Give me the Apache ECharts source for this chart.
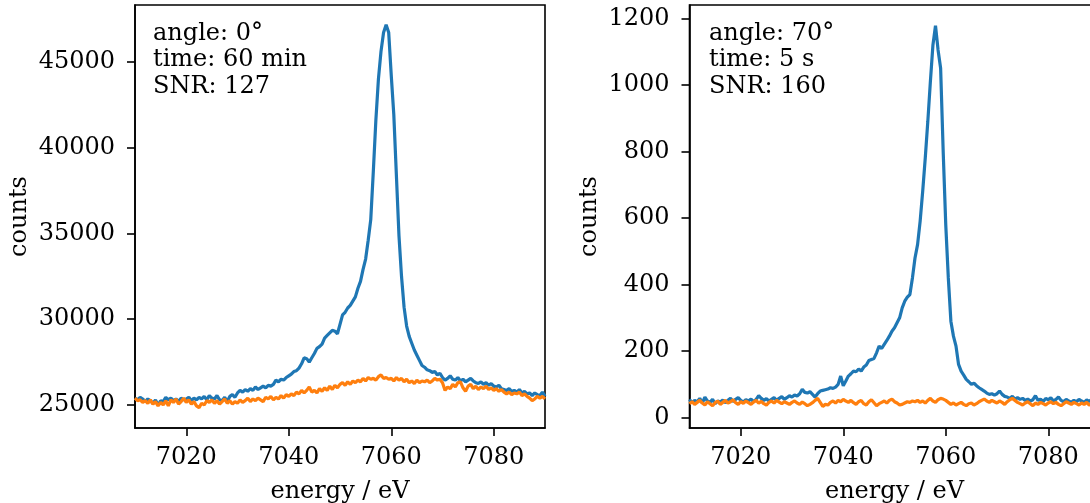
<!DOCTYPE html>
<html>
<head>
<meta charset="utf-8">
<script src="https://cdn.jsdelivr.net/npm/echarts@6/dist/echarts.min.js"></script>
<style>html,body{margin:0;padding:0;background:#fff;}#chart{width:1090px;height:503px;}</style>
</head>
<body>
<div id="chart"></div>
<script>
const energy = [
7010,7010.5,7011,7011.5,7012,7012.5,7013,7013.5,7014,7014.5,
7015,7015.5,7016,7016.5,7017,7017.5,7018,7018.5,7019,7019.5,
7020,7020.5,7021,7021.5,7022,7022.5,7023,7023.5,7024,7024.5,
7025,7025.5,7026,7026.5,7027,7027.5,7028,7028.5,7029,7029.5,
7030,7030.5,7031,7031.5,7032,7032.5,7033,7033.5,7034,7034.5,
7035,7035.5,7036,7036.5,7037,7037.5,7038,7038.5,7039,7039.5,
7040,7040.5,7041,7041.5,7042,7042.5,7043,7043.5,7044,7044.5,
7045,7045.5,7046,7046.5,7047,7047.5,7048,7048.5,7049,7049.5,
7050,7050.5,7051,7051.5,7052,7052.5,7053,7053.5,7054,7054.5,
7055,7055.5,7056,7056.5,7057,7057.5,7058,7058.5,7059,7059.5,
7060,7060.5,7061,7061.5,7062,7062.5,7063,7063.5,7064,7064.5,
7065,7065.5,7066,7066.5,7067,7067.5,7068,7068.5,7069,7069.5,
7070,7070.5,7071,7071.5,7072,7072.5,7073,7073.5,7074,7074.5,
7075,7075.5,7076,7076.5,7077,7077.5,7078,7078.5,7079,7079.5,
7080,7080.5,7081,7081.5,7082,7082.5,7083,7083.5,7084,7084.5,
7085,7085.5,7086,7086.5,7087,7087.5,7088,7088.5,7089,7089.5,
7090];

// angle 0°, 60 min — blue (sample) and orange (reference)
const counts0Blue = [
25400,25300,25450,25350,25200,25350,25250,25100,25300,25000,
25250,25200,25450,25300,25400,25250,25350,25200,25400,25300,
25350,25450,25250,25400,25300,25450,25350,25500,25300,25550,
25400,25350,25550,25300,25250,25450,25200,25500,25600,25450,
25700,25850,25750,25900,25800,25950,25850,26050,25900,26000,
26100,26000,26150,26100,26200,26450,26350,26500,26450,26600,
26700,26800,26950,27000,27150,27400,27750,27700,27500,27750,
28000,28300,28400,28550,28900,29050,29200,29350,29300,29150,
29700,30250,30400,30650,30800,31050,31300,31800,32200,32900,
33500,34600,35800,38600,41600,44000,45600,46700,47150,46700,
44200,41900,38400,34900,32500,30700,29600,29000,28600,28200,
27900,27600,27300,27200,27050,27000,26900,26950,26750,26850,
26600,26450,26550,26700,26500,26450,26600,26400,26500,26350,
26450,26550,26400,26300,26250,26350,26200,26300,26150,26250,
26100,26050,26150,25950,25900,25850,25950,25800,25850,25750,
25900,25700,25800,25650,25700,25550,25700,25600,25550,25750,
25500];
const counts0Orange = [
25400,25250,25300,25150,25250,25100,25300,25050,25200,24950,
25150,25000,25250,24950,25300,25150,25350,25050,25200,25400,
25150,25300,25050,25200,24950,24850,25100,25000,25250,25150,
25300,25100,25250,25050,25200,25350,25100,25250,25050,25200,
25100,25300,25150,25250,25400,25200,25350,25250,25400,25300,
25200,25450,25350,25500,25300,25450,25350,25550,25400,25600,
25500,25650,25550,25750,25650,25850,25700,25850,26050,25750,
25850,25700,25950,25800,26000,25850,26100,25900,26150,26000,
26200,26300,26150,26350,26200,26400,26300,26450,26350,26550,
26400,26600,26500,26550,26450,26650,26750,26550,26600,26500,
26550,26400,26600,26450,26550,26350,26500,26300,26400,26250,
26450,26300,26400,26350,26450,26300,26400,26550,26450,26500,
26300,25850,26050,25950,26200,26050,26300,26350,26000,25800,
26100,26200,25950,26100,25900,26050,25950,26100,25900,26000,
25850,25950,25800,25900,25750,25650,25750,25600,25700,25650,
25750,25550,25650,25500,25400,25250,25350,25500,25400,25500,
25350];

// angle 70°, 5 s
const counts70Blue = [
55,45,52,48,58,44,62,50,46,55,
42,50,47,53,45,52,58,49,55,60,
52,47,54,50,56,48,55,66,58,52,
57,50,55,60,52,58,63,55,60,66,
62,68,65,72,85,76,74,78,70,62,
72,80,82,84,86,90,88,92,100,125,
96,110,125,132,140,138,146,140,152,158,
172,175,178,195,215,208,220,232,245,260,
270,285,300,330,350,362,370,420,480,520,
590,680,780,890,1010,1120,1178,1105,1050,800,
580,420,290,245,215,160,140,128,115,108,
100,104,96,90,85,80,74,70,72,68,
72,80,70,64,62,58,64,56,60,55,
58,52,56,50,54,66,52,56,48,58,
54,60,50,55,62,52,48,55,50,46,
52,48,55,50,46,53,49,55,47,52,
50];
const counts70Orange = [
42,48,40,46,52,44,38,48,42,36,
45,50,40,46,52,44,48,54,45,40,
48,43,50,45,40,47,52,44,49,42,
38,46,50,44,52,47,42,48,44,40,
46,50,44,40,47,42,36,40,45,52,
58,46,34,40,38,46,50,44,52,48,
55,50,46,52,45,40,48,52,42,38,
48,54,45,36,42,46,50,44,52,56,
48,44,38,40,44,48,46,50,48,52,
46,50,44,52,58,50,46,54,58,56,
52,46,40,44,38,42,46,40,36,42,
44,38,42,48,52,56,50,46,52,48,
44,50,46,40,48,54,58,52,46,42,
38,44,48,42,36,44,40,46,42,38,
44,48,42,46,40,36,42,48,44,40,
46,42,38,44,40,46,38,42,36,40,
38];

const xTicks = [7020, 7040, 7060, 7080];
const yTicksLeft = [25000, 30000, 35000, 40000, 45000];
const yTicksRight = [0, 200, 400, 600, 800, 1000, 1200];
const annotLeft = ['angle: 0°', 'time: 60 min', 'SNR: 127'];
const annotRight = ['angle: 70°', 'time: 5 s', 'SNR: 160'];
const xName = 'energy / eV';
const yName = 'counts';

const FONT = 'DejaVu Serif';
const FS = 24;
const BLUE = '#1f77b4', ORANGE = '#ff7f0e';

function pairs(vals) { return energy.map((e, i) => [e, vals[i]]); }

function xAxisCfg(idx) {
  return {
    type: 'value', gridIndex: idx, min: 7010, max: 7090,
    axisLine: { show: true, onZero: false, lineStyle: { color: '#000', width: 1.6 } },
    axisTick: { show: true, length: 8, lineStyle: { color: '#000', width: 1.6 }, customValues: xTicks },
    axisLabel: { color: '#000', fontFamily: FONT, fontSize: FS, margin: 18, customValues: xTicks, formatter: v => String(v) },
    splitLine: { show: false },
    name: xName, nameLocation: 'middle', nameGap: 52,
    nameTextStyle: { color: '#000', fontFamily: FONT, fontSize: FS }
  };
}
function yAxisCfg(idx, min, max, ticks, gap) {
  return {
    type: 'value', gridIndex: idx, min: min, max: max,
    axisLine: { show: true, onZero: false, lineStyle: { color: '#000', width: 1.6 } },
    axisTick: { show: true, length: 8, lineStyle: { color: '#000', width: 1.6 }, customValues: ticks },
    axisLabel: { color: '#000', fontFamily: FONT, fontSize: FS, margin: 20, customValues: ticks, formatter: v => String(v) },
    splitLine: { show: false },
    name: yName, nameLocation: 'middle', nameGap: gap, nameRotate: 90,
    nameTextStyle: { color: '#000', fontFamily: FONT, fontSize: FS }
  };
}
function annot(lines, left) {
  return {
    type: 'text', left: left, top: 20, silent: true,
    style: { text: lines.join('\n'), fill: '#000', font: FS + 'px "' + FONT + '"', lineHeight: 26.7 }
  };
}

const chart = echarts.init(document.getElementById('chart'), null, { renderer: 'canvas' });
chart.setOption({
  animation: false,
  backgroundColor: '#fff',
  grid: [
    { left: 135, top: 5, width: 410, height: 423, show: true, borderColor: '#000', borderWidth: 1.6, containLabel: false, outerBoundsMode: 'none' },
    { left: 689.5, top: 5, width: 410, height: 423, show: true, borderColor: '#000', borderWidth: 1.6, containLabel: false, outerBoundsMode: 'none' }
  ],
  xAxis: [xAxisCfg(0), xAxisCfg(1)],
  yAxis: [
    yAxisCfg(0, 23660, 48300, yTicksLeft, 103),
    yAxisCfg(1, -31, 1240, yTicksRight, 88)
  ],
  series: [
    { type: 'line', xAxisIndex: 0, yAxisIndex: 0, data: pairs(counts0Blue), showSymbol: false, lineStyle: { color: BLUE, width: 3.2 }, itemStyle: { color: BLUE } },
    { type: 'line', xAxisIndex: 0, yAxisIndex: 0, data: pairs(counts0Orange), showSymbol: false, lineStyle: { color: ORANGE, width: 3.2 }, itemStyle: { color: ORANGE } },
    { type: 'line', xAxisIndex: 1, yAxisIndex: 1, data: pairs(counts70Blue), showSymbol: false, lineStyle: { color: BLUE, width: 3.2 }, itemStyle: { color: BLUE } },
    { type: 'line', xAxisIndex: 1, yAxisIndex: 1, data: pairs(counts70Orange), showSymbol: false, lineStyle: { color: ORANGE, width: 3.2 }, itemStyle: { color: ORANGE } }
  ],
  graphic: [annot(annotLeft, 153), annot(annotRight, 709)]
});
</script>
</body>
</html>
